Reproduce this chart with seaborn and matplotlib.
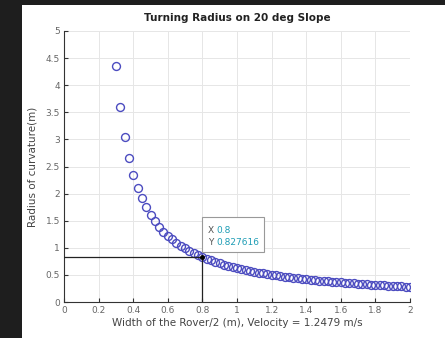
import matplotlib
matplotlib.use("Agg")
import matplotlib.pyplot as plt
import seaborn as sns
import pandas as pd
from matplotlib.patches import Rectangle

# Data (x step 0.025 from 0.3 to 2.0)
width_half = [0.3, 0.325, 0.35, 0.375, 0.4, 0.425, 0.45, 0.475, 0.5, 0.525,
              0.55, 0.575, 0.6, 0.625, 0.65, 0.675, 0.7, 0.725, 0.75, 0.775,
              0.8, 0.825, 0.85, 0.875, 0.9, 0.925, 0.95, 0.975, 1.0, 1.025,
              1.05, 1.075, 1.1, 1.125, 1.15, 1.175, 1.2, 1.225, 1.25, 1.275,
              1.3, 1.325, 1.35, 1.375, 1.4, 1.425, 1.45, 1.475, 1.5, 1.525,
              1.55, 1.575, 1.6, 1.625, 1.65, 1.675, 1.7, 1.725, 1.75, 1.775,
              1.8, 1.825, 1.85, 1.875, 1.9, 1.925, 1.95, 1.975, 2.0]
radius = [4.35, 3.59, 3.05, 2.66, 2.35, 2.11, 1.91, 1.75, 1.61, 1.49,
          1.39, 1.30, 1.22, 1.155, 1.093, 1.038, 0.988, 0.942, 0.900, 0.862,
          0.8276, 0.795, 0.766, 0.738, 0.712, 0.688, 0.666, 0.645, 0.625, 0.606,
          0.589, 0.572, 0.557, 0.542, 0.528, 0.515, 0.502, 0.490, 0.479, 0.468,
          0.457, 0.447, 0.438, 0.429, 0.420, 0.411, 0.403, 0.396, 0.388, 0.381,
          0.374, 0.367, 0.361, 0.355, 0.348, 0.343, 0.337, 0.331, 0.326, 0.321,
          0.316, 0.311, 0.307, 0.302, 0.298, 0.293, 0.289, 0.285, 0.281]
x_ticks = [0, 0.2, 0.4, 0.6, 0.8, 1, 1.2, 1.4, 1.6, 1.8, 2]
x_tick_labels = ["0", "0.2", "0.4", "0.6", "0.8", "1", "1.2", "1.4", "1.6", "1.8", "2"]
y_ticks = [0, 0.5, 1, 1.5, 2, 2.5, 3, 3.5, 4, 4.5, 5]
y_tick_labels = ["0", "0.5", "1", "1.5", "2", "2.5", "3", "3.5", "4", "4.5", "5"]
tip_x = 0.8
tip_y = 0.827616

sns.set_style("white")
plt.rcParams['font.family'] = ['DejaVu Sans']

fig = plt.figure(figsize=(4.45, 3.38), dpi=100)
fig.patch.set_facecolor("#1e1e1e")
fig.patches.append(Rectangle((22 / 445, 0), 1 - 22 / 445, (338 - 5) / 338,
                             transform=fig.transFigure, facecolor="white",
                             edgecolor="none", zorder=-10))

ax = fig.add_axes([64 / 445, (338 - 302) / 338, (410 - 64) / 445, (302 - 31) / 338])
ax.set_facecolor("white")

df = pd.DataFrame({"w": width_half, "r": radius})
sns.lineplot(data=df, x="w", y="r", ax=ax, estimator=None, sort=False,
             linestyle="none", marker="o", markersize=5.7,
             markerfacecolor="none", markeredgecolor="#4c4cc0",
             markeredgewidth=1.0)

# datatip lines
ax.plot([0, tip_x], [tip_y, tip_y], color="#222222", lw=0.9, zorder=3)
ax.plot([tip_x, tip_x], [0, tip_y], color="#222222", lw=0.9, zorder=3)
ax.plot([tip_x], [tip_y], marker="o", color="black", markersize=2.5, zorder=4)

# datatip box
box_x0, box_y0 = 0.80, 0.93
ax.add_patch(Rectangle((box_x0, box_y0), 0.355, 0.63, facecolor="white",
                       edgecolor="#999999", lw=0.8, zorder=5))
ax.text(0.83, 1.31, "X", color="#555555", fontsize=6.5, va="center", zorder=6)
ax.text(0.88, 1.31, "0.8", color="#1e9db5", fontsize=6.5, va="center", zorder=6)
ax.text(0.83, 1.10, "Y", color="#555555", fontsize=6.5, va="center", zorder=6)
ax.text(0.88, 1.10, "0.827616", color="#1e9db5", fontsize=6.5, va="center", zorder=6)

ax.set_xlim(0, 2)
ax.set_ylim(0, 5)
ax.set_xticks(x_ticks)
ax.set_xticklabels(x_tick_labels)
ax.set_yticks(y_ticks)
ax.set_yticklabels(y_tick_labels)
ax.grid(True, color="#e6e6e6", lw=0.7)
ax.tick_params(axis="both", direction="in", length=3, width=0.8,
               labelsize=6.5, labelcolor="#666666", color="#333333", pad=3,
               bottom=True, left=True)
for s in ["top", "right"]:
    ax.spines[s].set_visible(False)
for s in ["left", "bottom"]:
    ax.spines[s].set_color("#333333")
    ax.spines[s].set_linewidth(0.8)

ax.set_title("Turning Radius on 20 deg Slope", fontsize=7.5, fontweight="bold",
             color="#222222", pad=7)
ax.set_xlabel("Width of the Rover/2 (m), Velocity = 1.2479 m/s", fontsize=7.5,
              color="#444444", labelpad=2)
ax.set_ylabel("Radius of curvature(m)", fontsize=7.5, color="#444444", labelpad=6)

fig.savefig("out.png", dpi=100, facecolor=fig.get_facecolor())
